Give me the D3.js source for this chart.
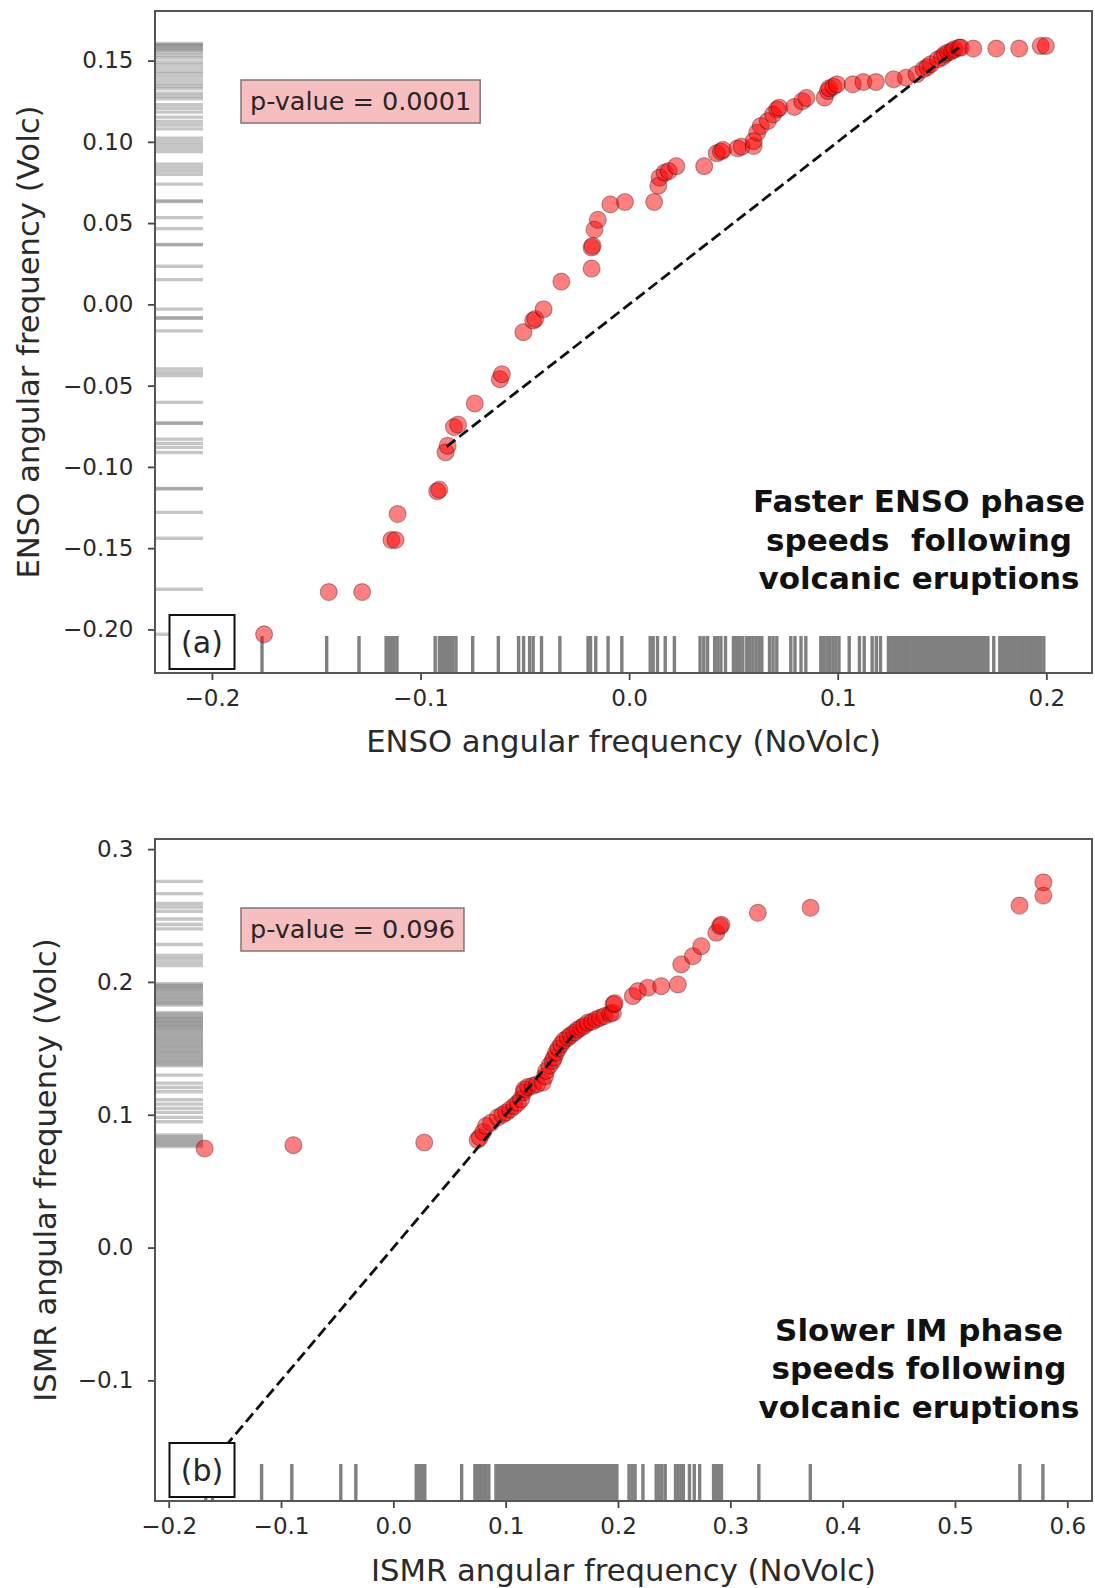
<!DOCTYPE html>
<html>
<head>
<meta charset="utf-8">
<script src="https://cdn.jsdelivr.net/npm/d3@7"></script>
<style>
  body { margin: 0; background: #fff; }
  svg text { font-family: "DejaVu Sans", sans-serif; }
</style>
</head>
<body>
<svg id="fig" width="1095" height="1588"></svg>
<script>
// ---- panel (a): ENSO quantiles, NoVolc (x) vs Volc (y) ----
var ensoNoVolc = [-0.175, -0.144, -0.128, -0.114, -0.112, -0.111, -0.092, -0.091, -0.088, -0.087,
  -0.084, -0.082, -0.074, -0.062, -0.061, -0.0507, -0.046, -0.045, -0.041, -0.0325,
  -0.018, -0.018, -0.0175, -0.0166, -0.015, -0.009, -0.002, 0.012, 0.014, 0.0146,
  0.017, 0.019, 0.0226, 0.036, 0.042, 0.044, 0.045, 0.052, 0.054, 0.0597,
  0.0597, 0.0614, 0.0631, 0.0665, 0.069, 0.071, 0.072, 0.0792, 0.083, 0.085,
  0.0937, 0.0953, 0.096, 0.098, 0.0996, 0.1072, 0.1123, 0.1183, 0.1268, 0.1327,
  0.1378, 0.1412, 0.143, 0.1446, 0.148, 0.150, 0.1514, 0.153, 0.1548, 0.156,
  0.1582, 0.159, 0.165, 0.176, 0.187, 0.1973, 0.1998];
var ensoVolc = [-0.203, -0.177, -0.177, -0.145, -0.145, -0.129, -0.115, -0.114, -0.091, -0.087,
  -0.0755, -0.074, -0.061, -0.046, -0.043, -0.0171, -0.010, -0.009, -0.003, 0.014,
  0.022, 0.035, 0.036, 0.046, 0.052, 0.0615, 0.063, 0.063, 0.073, 0.078,
  0.081, 0.082, 0.085, 0.085, 0.093, 0.094, 0.095, 0.096, 0.097, 0.0974,
  0.1005, 0.1057, 0.1097, 0.1128, 0.1169, 0.120, 0.121, 0.1215, 0.125, 0.127,
  0.1272, 0.1313, 0.133, 0.134, 0.1354, 0.1354, 0.1368, 0.1368, 0.1385, 0.1395,
  0.1416, 0.1447, 0.146, 0.1478, 0.1508, 0.152, 0.1539, 0.155, 0.1559, 0.157,
  0.158, 0.158, 0.1574, 0.1574, 0.1574, 0.159, 0.159];
// rug of NoVolc values (bottom)
var ensoRugNoVolc = [-0.176, -0.145, -0.1295,
  -0.1165, -0.1152, -0.114, -0.1127, -0.1113,
  -0.093, -0.091, -0.0895, -0.0882, -0.087, -0.0858, -0.0845, -0.083,
  -0.075, -0.0627, -0.053, -0.0506, -0.0477, -0.046, -0.042, -0.0332,
  -0.0197, -0.0185, -0.016, -0.0101, -0.0035,
  0.0101, 0.0115, 0.0136, 0.0173, 0.0217,
  0.034, 0.0358, 0.0376, 0.041, 0.0425, 0.044, 0.0462, 0.050, 0.0515, 0.053, 0.0545, 0.0564,
  0.0578, 0.0593, 0.0608, 0.0622, 0.0636, 0.0673, 0.069, 0.0708, 0.0775, 0.0795, 0.0824, 0.0847,
  0.0919, 0.0933, 0.0948, 0.0962, 0.0977, 0.0991, 0.1006, 0.1055, 0.1104, 0.1127, 0.1165, 0.1185, 0.1205,
  0.1243, 0.1256, 0.1269, 0.1282, 0.1295, 0.1308, 0.1321, 0.1334, 0.1347, 0.136, 0.1373, 0.1386,
  0.1399, 0.1412, 0.1425, 0.1438, 0.1451, 0.1464, 0.1477, 0.149, 0.1503, 0.1516, 0.1529, 0.1542,
  0.1555, 0.1568, 0.1581, 0.1594, 0.1607, 0.162, 0.1633, 0.1646, 0.1659, 0.1672, 0.1685, 0.1698,
  0.1711, 0.172, 0.1748,
  0.1777, 0.179, 0.1803, 0.1816, 0.1829, 0.1842, 0.1855, 0.1868, 0.1881, 0.1894, 0.1907, 0.192,
  0.1933, 0.1946, 0.1959, 0.1972, 0.1988];
// rug of Volc values (left)
var ensoRugVolc = [0.1605, 0.1598, 0.1595, 0.1588, 0.1578, 0.157, 0.1564, 0.1549, 0.1533, 0.1516,
  0.1492, 0.1475, 0.1455, 0.1434, 0.1418, 0.1399, 0.1378, 0.1358, 0.1343, 0.1327, 0.13, 0.1282, 0.1265,
  0.1228, 0.1207, 0.1183, 0.1152, 0.1125, 0.1104, 0.108,
  0.1022, 0.1001, 0.0981, 0.096, 0.094, 0.0863, 0.0843, 0.0822, 0.0801,
  0.074, 0.0637, 0.0633, 0.0534, 0.0466, 0.0369, 0.0366, 0.0235, 0.0152,
  -0.0029, -0.0085, -0.0082, -0.0163,
  -0.0397, -0.0418, -0.0438, -0.0603, -0.073, -0.0732, -0.0829, -0.0855, -0.088, -0.0911,
  -0.1133, -0.1135, -0.128, -0.1439, -0.1753, -0.203];
var ensoDiagonal = [-0.0875, 0.158];
var ensoXTicks = [-0.2, -0.1, 0.0, 0.1, 0.2];
var ensoYTicks = [-0.20, -0.15, -0.10, -0.05, 0.00, 0.05, 0.10, 0.15];

// ---- panel (b): ISMR quantiles ----
var ismrNoVolc = [-0.168, -0.089, 0.0275, 0.075, 0.077, 0.080, 0.0825, 0.087, 0.093, 0.097,
  0.1004, 0.104, 0.1078, 0.111, 0.1137, 0.116, 0.1167, 0.120, 0.1241, 0.128,
  0.133, 0.135, 0.136, 0.139, 0.1419, 0.143, 0.1449, 0.147, 0.1494, 0.152,
  0.1553, 0.158, 0.1612, 0.164, 0.1672, 0.170, 0.1731, 0.177, 0.1806, 0.184,
  0.188, 0.193, 0.1954, 0.196, 0.197, 0.2132, 0.2177, 0.2266, 0.2385, 0.2533,
  0.2563, 0.2667, 0.2741, 0.2875, 0.2909, 0.292, 0.3245, 0.3714, 0.5575, 0.5787, 0.5787];
var ismrVolc = [0.0746, 0.0771, 0.0791, 0.081, 0.083, 0.087, 0.0916, 0.094, 0.098, 0.100,
  0.1017, 0.104, 0.1066, 0.109, 0.1117, 0.117, 0.1192, 0.121, 0.1217, 0.123,
  0.1242, 0.129, 0.133, 0.137, 0.1405, 0.143, 0.1468, 0.150, 0.153, 0.156,
  0.158, 0.160, 0.1618, 0.164, 0.1656, 0.167, 0.1693, 0.170, 0.1718, 0.173,
  0.1743, 0.176, 0.1768, 0.1831, 0.184, 0.1893, 0.1931, 0.1956, 0.1968, 0.1981,
  0.2132, 0.2194, 0.2269, 0.237, 0.242, 0.243, 0.252, 0.2558, 0.2575, 0.265, 0.275];
var ismrRugNoVolc = [-0.167, -0.161, -0.1173, -0.0904, -0.0468, -0.0334,
  0.0204, 0.0222, 0.024, 0.026, 0.028, 0.0608,
  0.0726, 0.0745, 0.0765, 0.0785, 0.0805, 0.0825, 0.085,
  0.0914, 0.0936, 0.0958, 0.098, 0.1002, 0.1024, 0.1046, 0.1068, 0.109, 0.1112, 0.1134, 0.1156,
  0.1178, 0.12, 0.1222, 0.1244, 0.1266, 0.1288, 0.131, 0.1332, 0.1354, 0.1376, 0.1398, 0.142,
  0.1442, 0.1464, 0.1486, 0.1508, 0.153, 0.1552, 0.1574, 0.1596, 0.1618, 0.164, 0.1662, 0.1684,
  0.1706, 0.1728, 0.175, 0.1772, 0.1794, 0.1816, 0.1838, 0.186, 0.1882, 0.1904, 0.1926, 0.1948,
  0.197, 0.199,
  0.2098, 0.2125, 0.2152, 0.2222, 0.234, 0.2365, 0.239, 0.242, 0.2512, 0.2535, 0.256, 0.2582,
  0.2636, 0.2679, 0.2727, 0.2851, 0.2875, 0.29, 0.2921, 0.3254, 0.3712, 0.5578, 0.5783];
var ismrRugVolc = [0.2757, 0.2665, 0.259, 0.2564, 0.2532, 0.2474, 0.2432, 0.2399, 0.2282,
  0.2199, 0.2174, 0.2149, 0.2124,
  0.1986, 0.1975, 0.1969, 0.1955, 0.1949, 0.1935, 0.1924, 0.191, 0.1899, 0.1885, 0.1874, 0.186,
  0.1849, 0.1838, 0.1826,
  0.1768, 0.1758, 0.1743, 0.1733, 0.1723, 0.1713, 0.1703, 0.1693, 0.1683, 0.1673, 0.1663, 0.1653,
  0.1643, 0.163, 0.1618, 0.1605, 0.1593, 0.158, 0.1568, 0.1555, 0.1543, 0.153, 0.1518, 0.1505,
  0.1493, 0.148, 0.1468, 0.1455, 0.1443, 0.143, 0.1418, 0.1405, 0.1393, 0.138, 0.1368,
  0.1298, 0.1238, 0.1205, 0.1173,
  0.1113, 0.108, 0.1048, 0.1018, 0.098, 0.0947,
  0.0847, 0.0835, 0.0822, 0.081, 0.0797, 0.0785, 0.0772, 0.076];
var ismrDiagonal = [-0.168, 0.16];
var ismrXTicks = [-0.2, -0.1, 0.0, 0.1, 0.2, 0.3, 0.4, 0.5, 0.6];
var ismrYTicks = [-0.1, 0.0, 0.1, 0.2, 0.3];

var ensoText = ["Faster ENSO phase", "speeds  following", "volcanic eruptions"];
var ismrText = ["Slower IM phase", "speeds following", "volcanic eruptions"];

var svg = d3.select("#fig");

function drawPanel(p) {
  var x = d3.scaleLinear().domain(p.xDomain).range([p.left, p.right]);
  var y = d3.scaleLinear().domain(p.yDomain).range([p.bottom, p.top]);
  var g = svg.append("g");

  // rugs
  g.append("g").selectAll("line")
    .data(p.rugY)
    .enter().append("line")
      .attr("x1", p.left).attr("x2", p.left + 48)
      .attr("y1", function(d) { return y(d); })
      .attr("y2", function(d) { return y(d); })
      .attr("stroke", "#808080")
      .attr("stroke-opacity", 0.45)
      .attr("stroke-width", 3.4);

  g.append("g").selectAll("line")
    .data(p.rugX)
    .enter().append("line")
      .attr("x1", function(d) { return x(d); })
      .attr("x2", function(d) { return x(d); })
      .attr("y1", p.bottom).attr("y2", p.bottom - 37)
      .attr("stroke", "#808080")
      .attr("stroke-width", 3.4);

  // quantile points
  g.append("g").selectAll("circle")
    .data(d3.zip(p.xs, p.ys))
    .enter().append("circle")
      .attr("cx", function(d) { return x(d[0]); })
      .attr("cy", function(d) { return y(d[1]); })
      .attr("r", 8.5)
      .attr("fill", "red")
      .attr("fill-opacity", 0.5)
      .attr("stroke", "#000")
      .attr("stroke-opacity", 0.3)
      .attr("stroke-width", 1.2);

  // 1:1 line
  g.append("line")
    .attr("x1", x(p.diag[0])).attr("y1", y(p.diag[0]))
    .attr("x2", x(p.diag[1])).attr("y2", y(p.diag[1]))
    .attr("stroke", "#111")
    .attr("stroke-width", 2.8)
    .attr("stroke-dasharray", "11,5");

  // axes
  var xAxis = g.append("g")
    .attr("transform", "translate(0," + p.bottom + ")")
    .call(d3.axisBottom(x).tickValues(p.xTicks).tickFormat(d3.format(".1f"))
      .tickSize(7).tickPadding(10));
  var yAxis = g.append("g")
    .attr("transform", "translate(" + p.left + ",0)")
    .call(d3.axisLeft(y).tickValues(p.yTicks).tickFormat(d3.format(p.yFormat))
      .tickSize(7).tickPadding(14.5));
  [xAxis, yAxis].forEach(function(a) {
    a.select(".domain").remove();
    a.selectAll(".tick line").attr("stroke", "#444").attr("stroke-width", 1.8);
    a.selectAll(".tick text").attr("fill", "#2a2a2a").style("font-size", "23px")
      .style("font-family", "DejaVu Sans");
  });

  // frame
  g.append("rect")
    .attr("x", p.left).attr("y", p.top)
    .attr("width", p.right - p.left).attr("height", p.bottom - p.top)
    .attr("fill", "none").attr("stroke", "#555").attr("stroke-width", 2);

  // axis labels
  g.append("text")
    .attr("x", (p.left + p.right) / 2).attr("y", p.xLabelY)
    .attr("dy", "0.35em").attr("text-anchor", "middle")
    .attr("fill", "#2a2a2a").style("font-size", "30.7px")
    .text(p.xLabel);
  g.append("text")
    .attr("transform", "translate(" + p.yLabelX + "," + ((p.top + p.bottom) / 2) + ") rotate(-90)")
    .attr("dy", "0.35em").attr("text-anchor", "middle")
    .attr("fill", "#2a2a2a").style("font-size", "30.7px")
    .text(p.yLabel);

  // p-value box
  var pv = g.append("g");
  var pvText = pv.append("text")
    .attr("x", p.left + 95).attr("y", p.top + p.pvalDy)
    .attr("dy", "0.35em")
    .attr("fill", "#262626").style("font-size", "25.5px")
    .text(p.pval);
  var bb = pvText.node().getBBox();
  pv.insert("rect", "text")
    .attr("x", bb.x - 9).attr("y", p.top + p.pvalDy - 21)
    .attr("width", bb.width + 18).attr("height", 43)
    .attr("fill", "#f6bebe").attr("stroke", "#8a7a7a").attr("stroke-width", 1.6);

  // annotation
  g.append("g").selectAll("text")
    .data(p.note)
    .enter().append("text")
      .attr("x", 919)
      .attr("y", function(d, i) { return p.noteY + i * 38.5; })
      .attr("dy", "0.35em")
      .attr("text-anchor", "middle")
      .attr("fill", "#111")
      .style("font-size", "31px").style("font-weight", "bold")
      .style("white-space", "pre")
      .text(function(d) { return d; });

  // panel letter
  g.append("rect")
    .attr("x", p.left + 14.5).attr("y", p.bottom - 58)
    .attr("width", 65).attr("height", 54)
    .attr("fill", "#fff").attr("stroke", "#111").attr("stroke-width", 2);
  g.append("text")
    .attr("x", p.left + 47).attr("y", p.bottom - 31)
    .attr("dy", "0.35em").attr("text-anchor", "middle")
    .attr("fill", "#262626").style("font-size", "30px")
    .text(p.letter);
}

drawPanel({
  left: 155, right: 1092, top: 11, bottom: 673,
  xDomain: [-0.2273, 0.2219], yDomain: [-0.2268, 0.1805],
  xs: ensoNoVolc, ys: ensoVolc, rugX: ensoRugNoVolc, rugY: ensoRugVolc,
  diag: ensoDiagonal, xTicks: ensoXTicks, yTicks: ensoYTicks, yFormat: ".2f",
  xLabel: "ENSO angular frequency (NoVolc)", xLabelY: 741,
  yLabel: "ENSO angular frequency (Volc)", yLabelX: 28.5,
  pval: "p-value = 0.0001", pvalDy: 90,
  note: ensoText, noteY: 501.5, letter: "(a)"
});

drawPanel({
  left: 155, right: 1092, top: 839, bottom: 1501,
  xDomain: [-0.2122, 0.622], yDomain: [-0.1908, 0.3076],
  xs: ismrNoVolc, ys: ismrVolc, rugX: ismrRugNoVolc, rugY: ismrRugVolc,
  diag: ismrDiagonal, xTicks: ismrXTicks, yTicks: ismrYTicks, yFormat: ".1f",
  xLabel: "ISMR angular frequency (NoVolc)", xLabelY: 1570,
  yLabel: "ISMR angular frequency (Volc)", yLabelX: 45.5,
  pval: "p-value = 0.096", pvalDy: 90,
  note: ismrText, noteY: 1330, letter: "(b)"
});
</script>
</body>
</html>
